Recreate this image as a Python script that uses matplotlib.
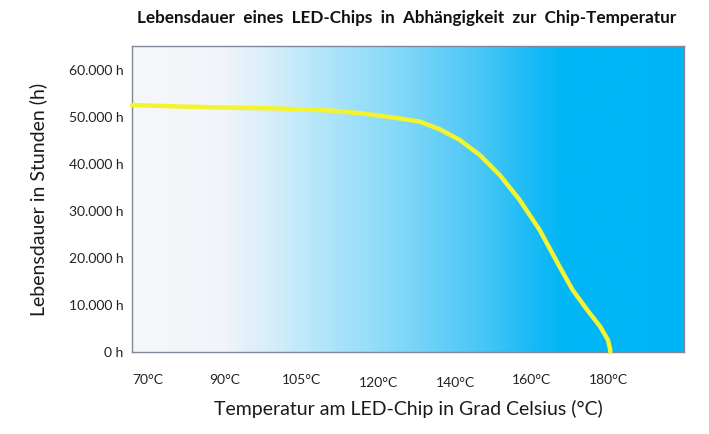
import numpy as np
import matplotlib.pyplot as plt
from matplotlib.colors import LinearSegmentedColormap
from matplotlib.transforms import ScaledTranslation

plt.rcParams['font.family'] = ['Lato', 'DejaVu Sans']

# x axis categories (equally spaced on the axis)
temp_labels = ["70°C", "90°C", "105°C", "120°C", "140°C", "160°C", "180°C"]
y_ticks = [0, 10000, 20000, 30000, 40000, 50000, 60000]
y_labels = ["0 h", "10.000 h", "20.000 h", "30.000 h", "40.000 h", "50.000 h", "60.000 h"]

# lifetime curve, x given as position on the category axis
curve_pos = [-0.21, 0.42, 1.07, 1.72, 2.37, 2.80, 3.24, 3.54, 3.80, 4.06, 4.32,
             4.58, 4.84, 5.10, 5.36, 5.53, 5.72, 5.89, 5.99, 6.02, 6.02]
curve_hours = [52550, 52230, 51980, 51810, 51380, 50750, 49790, 49000, 47380, 45110, 41920,
               37660, 32340, 25960, 18150, 13190, 8940, 5380, 2550, 430, 0]

fig = plt.figure(figsize=(7.09, 4.34), dpi=100)
ax = fig.add_axes([0.1862, 0.1889, 0.7785, 0.705])

xmin, xmax = -0.21, 6.98
ymin, ymax = 0, 65100

# background gradient white -> blue
cmap = LinearSegmentedColormap.from_list("bg", [
    (0.0, "#f6f7fa"), (0.16, "#f1f5f9"), (0.26, "#d2edf9"), (0.35, "#b0e5fa"),
    (0.45, "#8fdcf9"), (0.54, "#6dd1f7"), (0.64, "#46c6f6"), (0.72, "#1cbbf5"),
    (0.78, "#03b6f6"), (1.0, "#00b5f6")])
grad = np.linspace(0, 1, 512).reshape(1, -1)
ax.imshow(grad, cmap=cmap, aspect="auto", extent=[xmin, xmax, ymin, ymax],
          interpolation="bilinear", zorder=0)

ax.plot(curve_pos, curve_hours, color="#f4f42e", lw=3.2, solid_capstyle="round",
        solid_joinstyle="round", zorder=3, clip_on=False)

ax.set_xlim(xmin, xmax)
ax.set_ylim(ymin, ymax)

ax.set_xticks(range(len(temp_labels)))
ax.set_xticklabels(temp_labels, fontsize=10, color="#222222")
ax.set_yticks(y_ticks)
ax.set_yticklabels(y_labels, fontsize=10, color="#222222")
ax.tick_params(axis="both", length=0)
ax.tick_params(axis="x", pad=15.5)
ax.tick_params(axis="y", pad=6)

# 120 and 140 sit a bit lower in the reference
for lbl in ax.get_xticklabels()[3:5]:
    lbl.set_transform(lbl.get_transform() + ScaledTranslation(0, -2.5 / 72, fig.dpi_scale_trans))

for s in ax.spines.values():
    s.set_color("#7f8a96")
    s.set_linewidth(1.0)

ax.set_xlabel("Temperatur am LED-Chip in Grad Celsius (°C)", fontsize=14, color="#1a1a1a", labelpad=8)
ax.set_ylabel("Lebensdauer in Stunden (h)", fontsize=14, color="#1a1a1a", labelpad=16)
fig.text(0.573, 0.958, "Lebensdauer  eines  LED-Chips  in  Abhängigkeit  zur  Chip-Temperatur",
         ha="center", va="center", fontsize=12.3, fontweight="bold", color="#111111")

plt.savefig("out.png", dpi=100)
